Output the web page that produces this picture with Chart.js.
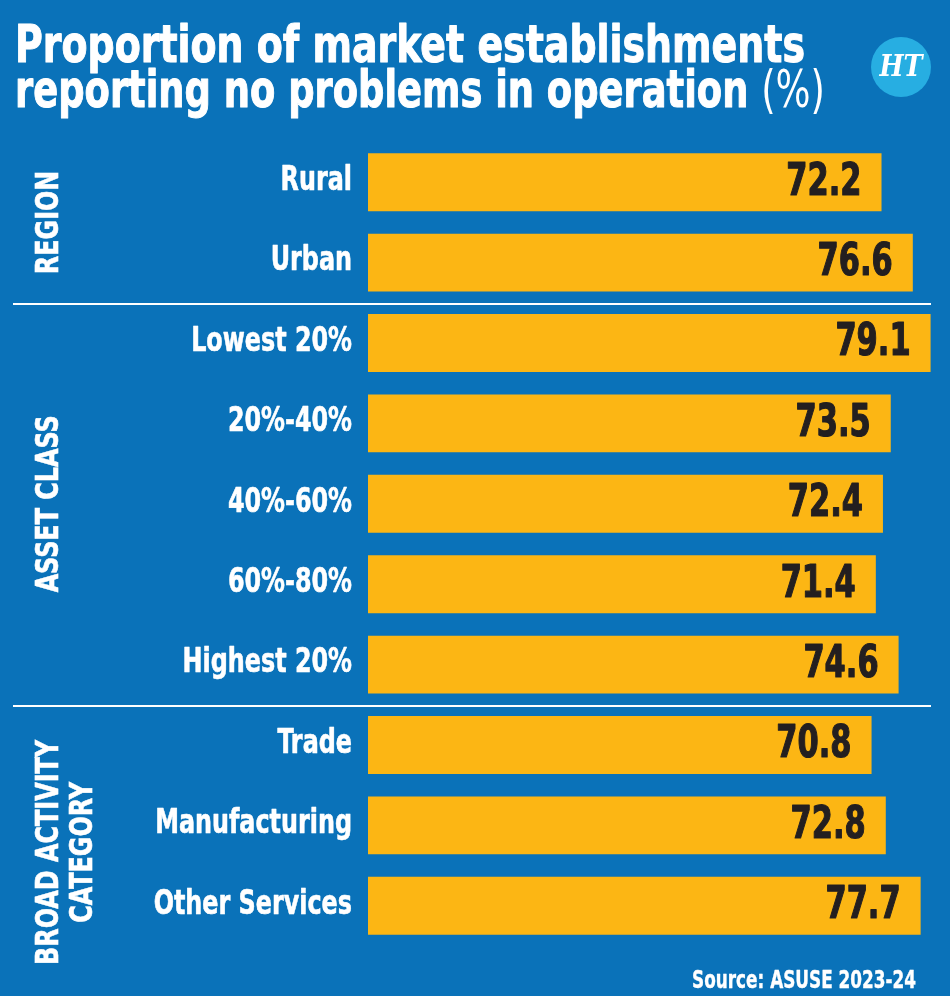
<!DOCTYPE html>
<html>
<head>
<meta charset="utf-8">
<script src="https://cdn.jsdelivr.net/npm/chart.js@4.4.1/dist/chart.umd.min.js"></script>
<style>
  html, body { margin: 0; padding: 0; background: #0a72b9; }
  #wrap { position: relative; width: 950px; height: 996px; }
  canvas { display: block; }
</style>
</head>
<body>
<div id="wrap"><canvas id="c" width="950" height="996"></canvas></div>
<script>
const titleLine1 = "Proportion of market establishments";
const titleLine2 = "reporting no problems in operation";
const titleUnit = "(%)";
const sourceText = "Source: ASUSE 2023-24";

const categories = ["Rural", "Urban", "Lowest 20%", "20%-40%", "40%-60%", "60%-80%", "Highest 20%", "Trade", "Manufacturing", "Other Services"];
const values = [72.2, 76.6, 79.1, 73.5, 72.4, 71.4, 74.6, 70.8, 72.8, 77.7];
const groupNames = [["REGION"], ["ASSET CLASS"], ["BROAD ACTIVITY", "CATEGORY"]];
const groupStart = [0, 2, 7];
const groupEnd = [1, 6, 9];

const BG = "#0a72b9";
const BAR = "#fcb614";
const FONT = "'Liberation Sans Narrow', 'DejaVu Sans Condensed', 'Arial Narrow', sans-serif";

function narrowText(ctx, text, x, y, sx, stroke) {
  ctx.save();
  ctx.translate(x, y);
  ctx.scale(sx, 1);
  ctx.fillText(text, 0, 0);
  if (stroke) {
    ctx.strokeStyle = ctx.fillStyle;
    ctx.lineWidth = stroke;
    ctx.lineJoin = "round";
    ctx.strokeText(text, 0, 0);
  }
  ctx.restore();
}

const decor = {
  id: 'decor',
  beforeDraw(chart) {
    const ctx = chart.ctx;
    ctx.save();
    ctx.fillStyle = BG;
    ctx.fillRect(0, 0, chart.width, chart.height);
    ctx.restore();
  },
  afterDraw(chart) {
    const ctx = chart.ctx;
    const y = chart.scales.y;
    ctx.save();
    // Title
    ctx.fillStyle = "#ffffff";
    ctx.textBaseline = "alphabetic";
    ctx.textAlign = "left";
    ctx.font = "bold 51px " + FONT;
    const w1 = ctx.measureText(titleLine1).width;
    const s1 = 790 / w1;
    narrowText(ctx, titleLine1, 15, 62, s1, 1);
    const w2 = ctx.measureText(titleLine2 + " ").width;
    ctx.font = "300 51px " + FONT;
    const w3 = ctx.measureText(titleUnit).width;
    const s2 = 810 / (w2 + w3);
    ctx.font = "bold 51px " + FONT;
    narrowText(ctx, titleLine2, 15, 107, s2, 1);
    ctx.font = "300 51px " + FONT;
    narrowText(ctx, titleUnit, 15 + w2 * s2, 107, s2);

    // Logo
    ctx.fillStyle = "#27aee2";
    ctx.beginPath();
    ctx.arc(901, 67, 30, 0, Math.PI * 2);
    ctx.fill();
    ctx.fillStyle = "#ffffff";
    ctx.textAlign = "center";
    ctx.textBaseline = "middle";
    ctx.font = "italic bold 30px 'DejaVu Serif', serif";
    narrowText(ctx, "HT", 901, 68, 0.85);

    // Separators
    ctx.strokeStyle = "#ffffff";
    ctx.lineWidth = 2;
    for (let g = 0; g < groupEnd.length - 1; g++) {
      const yy = Math.round((y.getPixelForValue(groupEnd[g]) + y.getPixelForValue(groupStart[g + 1])) / 2) + 1;
      ctx.beginPath();
      ctx.moveTo(13, yy);
      ctx.lineTo(931, yy);
      ctx.stroke();
    }

    // Category labels
    ctx.fillStyle = "#ffffff";
    ctx.font = "bold 34px " + FONT;
    ctx.textAlign = "right";
    ctx.textBaseline = "middle";
    categories.forEach((c, i) => {
      narrowText(ctx, c, 352, y.getPixelForValue(i) - 1, 0.78, 0.6);
    });

    // Group labels (rotated)
    ctx.font = "bold 32px " + FONT;
    ctx.textAlign = "center";
    ctx.textBaseline = "middle";
    for (let g = 0; g < groupNames.length; g++) {
      let cy = (y.getPixelForValue(groupStart[g]) + y.getPixelForValue(groupEnd[g])) / 2;
      const lines = groupNames[g];
      if (lines.length > 1) cy += 27;
      const lh = 34;
      lines.forEach((ln, i) => {
        const cx = 49 + i * lh;
        ctx.save();
        ctx.translate(cx, cy);
        ctx.rotate(-Math.PI / 2);
        ctx.scale(0.83, 1);
        ctx.fillText(ln, 0, 1);
        ctx.strokeStyle = "#ffffff";
        ctx.lineWidth = 0.6;
        ctx.strokeText(ln, 0, 1);
        ctx.restore();
      });
    }

    // Value labels
    const meta = chart.getDatasetMeta(0);
    ctx.fillStyle = "#231f20";
    ctx.font = "bold 44px " + FONT;
    ctx.textAlign = "right";
    ctx.textBaseline = "middle";
    meta.data.forEach((bar, i) => {
      narrowText(ctx, values[i].toFixed(1), bar.x - 20, bar.y + 1, 0.77, 1.2);
    });

    // Source
    ctx.fillStyle = "#ffffff";
    ctx.font = "bold 25px " + FONT;
    ctx.textAlign = "right";
    ctx.textBaseline = "alphabetic";
    narrowText(ctx, sourceText, 916, 988, 0.75, 0.4);
    ctx.restore();
  }
};

new Chart(document.getElementById('c'), {
  type: 'bar',
  data: {
    labels: categories,
    datasets: [{
      data: values,
      backgroundColor: BAR,
      borderWidth: 0,
      barPercentage: 0.72,
      categoryPercentage: 1.0
    }]
  },
  options: {
    indexAxis: 'y',
    responsive: false,
    animation: false,
    devicePixelRatio: 1,
    layout: { padding: { top: 142, bottom: 50, left: 0, right: 13 } },
    plugins: { legend: { display: false }, tooltip: { enabled: false }, title: { display: false } },
    scales: {
      x: { display: false, min: 0, max: 80 },
      y: {
        grid: { display: false },
        border: { display: false },
        ticks: { display: false },
        afterFit(scale) { scale.width = 368; }
      }
    }
  },
  plugins: [decor]
});
</script>
</body>
</html>
